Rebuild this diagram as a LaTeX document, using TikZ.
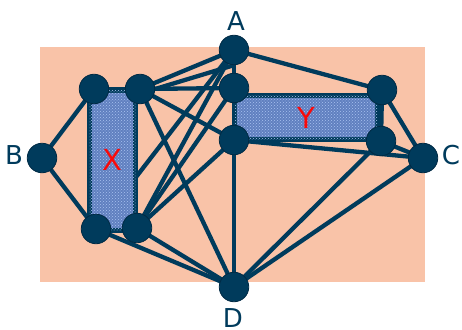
\documentclass[tikz,border=0pt]{standalone}
\usepackage{fontspec}
\setmainfont{DejaVu Sans}
\usetikzlibrary{patterns}
\definecolor{navy}{RGB}{0,59,92}
\definecolor{navyedge}{RGB}{0,42,68}
\definecolor{peach}{RGB}{249,195,168}
\definecolor{denim}{RGB}{96,128,192}
\definecolor{denimlight}{RGB}{170,195,240}
\definecolor{lblred}{RGB}{250,10,10}
\pgfdeclarelayer{bg}
\pgfdeclarelayer{edges}
\pgfdeclarelayer{rects}
\pgfsetlayers{bg,edges,rects,main}
\tikzset{
  vtx/.style={circle,fill=navy,draw=navyedge,line width=0.8pt,minimum size=29.5pt,inner sep=0pt},
  link/.style={draw=navy,line width=4.3pt},
  groupbox/.style={draw=navy,line width=5pt,fill=denim,inner sep=0pt,
    postaction={pattern=crosshatch dots,pattern color=denimlight},
    text=lblred,font=\fontsize{29}{29}\selectfont},
  lbl/.style={text=navy,font=\fontsize{26}{26}\selectfont,inner sep=0pt}
}
\begin{document}
\begin{tikzpicture}[x=1pt,y=-1pt]
\useasboundingbox (0,0) rectangle (462,329);
\begin{pgfonlayer}{bg}
\fill[peach] (40,47) rectangle (425,282);
\end{pgfonlayer}
% vertices
\node[vtx] (A) at (234,50) {};
\node[vtx] (B) at (42,158) {};
\node[vtx] (C) at (423,158) {};
\node[vtx] (D) at (234,287) {};
\node[vtx] (X1) at (94,89) {};
\node[vtx] (X2) at (140,89) {};
\node[vtx] (X3) at (96,229) {};
\node[vtx] (X4) at (137,228) {};
\node[vtx] (Y1) at (234,88) {};
\node[vtx] (Y2) at (382,90) {};
\node[vtx] (Y3) at (234,140) {};
\node[vtx] (Y4) at (381,141) {};
% labels
\node[lbl] (la) at (236,21) {A};
\node[lbl] (lb) at (14,155) {B};
\node[lbl] (lc) at (451,155) {C};
\node[lbl] (ld) at (233,318) {D};
% group boxes
\begin{pgfonlayer}{rects}
\node[groupbox,minimum width=46pt,minimum height=140pt] (X) at (112.5,160) {\raisebox{-8pt}{X}};
\node[groupbox,minimum width=143pt,minimum height=44pt] (Y) at (306,117.5) {\raisebox{-1pt}{Y}};
\end{pgfonlayer}
% connectors
\begin{pgfonlayer}{edges}
\foreach \u/\v in {B/X1,B/X3,X1/X2,X3/X4,X2/A,X2/Y1,X2/Y3,X2/D,X3/A,X3/D,
  X4/A,X4/Y1,X4/Y3,X4/D,A/Y1,A/Y2,Y1/Y3,Y3/D,Y3/C,Y2/C,Y4/C,Y4/D,C/D,Y2/Y4}
  \draw[link] (\u.center) -- (\v.center);
\draw[link] (X2.east) -- (A.south);
\end{pgfonlayer}
\end{tikzpicture}
\end{document}
